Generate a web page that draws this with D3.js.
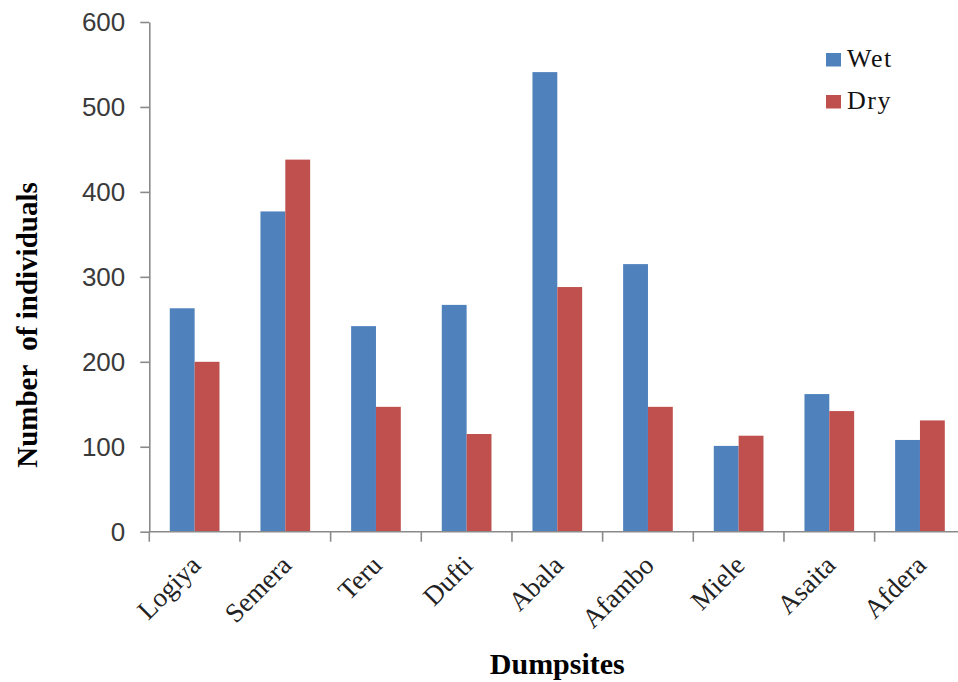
<!DOCTYPE html>
<html>
<head>
<meta charset="utf-8">
<script src="https://cdn.jsdelivr.net/npm/d3@7"></script>
<style>
  html, body { margin: 0; padding: 0; background: #fff; }
  svg { display: block; }
</style>
</head>
<body>
<svg id="chart" width="958" height="682"></svg>
<script>
// Dumpsites and counts per season
const categories = ["Logiya", "Semera", "Teru", "Dufti", "Abala", "Afambo", "Miele", "Asaita", "Afdera"];
const seriesNames = ["Wet", "Dry"];
const wetValues = [263, 377, 242, 267, 541, 315, 101, 162, 108];
const dryValues = [200, 438, 147, 115, 288, 147, 113, 142, 131];
const yTicks = [0, 100, 200, 300, 400, 500, 600];
const colors = ["#4F81BD", "#C0504D"];

const svg = d3.select("#chart");
const plotLeft = 149.3, plotRight = 965.3, plotTop = 22, plotBottom = 531.7;

const y = d3.scaleLinear().domain([0, 600]).range([plotBottom, plotTop]);

// group positions: bar pair occupies ~55% of each category slot
const x0 = d3.scaleBand().domain(categories).range([plotLeft, plotRight])
  .paddingInner(0.452).paddingOuter(0.226);
const x1 = d3.scaleBand().domain(seriesNames).range([0, x0.bandwidth()]);
// category boundaries for the axis tick marks
const xb = d3.scaleBand().domain(categories).range([plotLeft, plotRight]).padding(0);

const rows = categories.map((c, i) => ({ cat: c, vals: [wetValues[i], dryValues[i]] }));

// bars
const g = svg.append("g");
g.selectAll("g.grp").data(rows).join("g")
  .attr("class", "grp")
  .attr("transform", d => `translate(${x0(d.cat)},0)`)
  .selectAll("rect").data(d => d.vals.map((v, k) => ({ k, v })))
  .join("rect")
  .attr("x", d => x1(seriesNames[d.k]))
  .attr("width", x1.bandwidth())
  .attr("y", d => y(d.v))
  .attr("height", d => y(0) - y(d.v))
  .attr("fill", d => colors[d.k]);

const axisColor = "#8a8a8a";

// y axis
const yAxis = svg.append("g")
  .attr("transform", `translate(${plotLeft},0)`)
  .call(d3.axisLeft(y).tickValues(yTicks).tickSize(9).tickSizeOuter(0).tickPadding(15));
yAxis.select(".domain").attr("stroke", axisColor).attr("stroke-width", 1.6);
yAxis.selectAll(".tick line").attr("stroke", axisColor).attr("stroke-width", 1.6);
yAxis.selectAll(".tick text")
  .attr("font-family", "'Liberation Sans', Arial, sans-serif")
  .attr("font-size", 26)
  .attr("fill", "#3a3a3a");

// x axis line and boundary ticks
const xAxis = svg.append("g").attr("transform", `translate(0,${plotBottom})`);
xAxis.append("line")
  .attr("x1", plotLeft).attr("x2", plotRight)
  .attr("stroke", axisColor).attr("stroke-width", 1.6);
xAxis.selectAll("line.tk").data(categories.concat(["__end"])).join("line")
  .attr("class", "tk")
  .attr("x1", d => d === "__end" ? plotRight : xb(d))
  .attr("x2", d => d === "__end" ? plotRight : xb(d))
  .attr("y1", 0).attr("y2", 10)
  .attr("stroke", axisColor).attr("stroke-width", 1.6);

// rotated category labels
svg.append("g").selectAll("text").data(categories).join("text")
  .attr("transform", d => `translate(${x0(d) + x0.bandwidth() / 2 + 1},${plotBottom + 28.5}) rotate(-45)`)
  .attr("text-anchor", "end")
  .attr("dy", "0.35em")
  .attr("font-family", "'Liberation Serif', 'Times New Roman', serif")
  .attr("font-size", 27)
  .attr("fill", "#222")
  .text(d => d);

// axis titles
svg.append("text")
  .attr("x", (plotLeft + plotRight) / 2).attr("y", 674)
  .attr("text-anchor", "middle")
  .attr("font-family", "'Liberation Serif', 'Times New Roman', serif")
  .attr("font-weight", "bold")
  .attr("font-size", 30)
  .attr("fill", "#000")
  .text("Dumpsites");

svg.append("text")
  .attr("transform", `translate(36.5,325) rotate(-90)`)
  .attr("text-anchor", "middle")
  .attr("font-family", "'Liberation Serif', 'Times New Roman', serif")
  .attr("font-weight", "bold")
  .attr("font-size", 29)
  .attr("fill", "#000")
  .style("white-space", "pre")
  .text("Number  of individuals");

// legend
const legend = svg.append("g").attr("transform", "translate(826,53)");
const items = legend.selectAll("g").data(seriesNames).join("g")
  .attr("transform", (d, i) => `translate(0,${i * 42})`);
items.append("rect")
  .attr("width", 15).attr("height", 13.5)
  .attr("fill", (d, i) => colors[i]);
items.append("text")
  .attr("x", 21).attr("y", 14)
  .attr("font-family", "'Liberation Serif', 'Times New Roman', serif")
  .attr("font-size", 26)
  .attr("letter-spacing", "1.5px")
  .attr("fill", "#111")
  .text(d => d);
</script>
</body>
</html>
